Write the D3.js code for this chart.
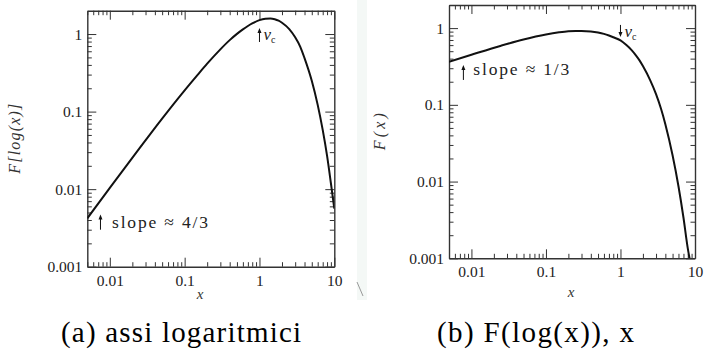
<!DOCTYPE html>
<html>
<head>
<meta charset="utf-8">
<script src="https://cdn.jsdelivr.net/npm/d3@7"></script>
</head>
<body style="margin:0">
<div id="chart"></div>
<script>
// (a) F[log(x)] against x, both axes logarithmic
const xA = [0.005, 0.01, 0.025, 0.05, 0.1, 0.15, 0.2, 0.3, 0.4, 0.5, 0.6, 0.7, 0.8, 1.0, 1.2, 1.4, 1.6, 1.8, 2.0, 2.5, 3.0, 3.5, 4.0, 5.0, 6.0, 7.0, 8.0, 9.0, 10];
const yA = [0.0042, 0.0104, 0.0338, 0.0812, 0.188, 0.300, 0.415, 0.635, 0.835, 1.005, 1.15, 1.27, 1.37, 1.51, 1.575, 1.59, 1.555, 1.49, 1.40, 1.16, 0.91, 0.69, 0.49, 0.25, 0.122, 0.058, 0.027, 0.012, 0.0056];

// (b) F(x) against x
const xB = [0.005, 0.01, 0.025, 0.05, 0.1, 0.15, 0.2, 0.25, 0.3, 0.4, 0.5, 0.6, 0.7, 0.8, 1.0, 1.2, 1.4, 1.6, 1.8, 2.0, 2.5, 3.0, 3.5, 4.0, 5.0, 6.0, 7.0, 8.0, 8.45];
const yB = [0.365, 0.45, 0.59, 0.71, 0.825, 0.88, 0.91, 0.92, 0.92, 0.905, 0.875, 0.84, 0.80, 0.76, 0.69, 0.60, 0.52, 0.445, 0.38, 0.32, 0.21, 0.138, 0.089, 0.056, 0.022, 0.0087, 0.0034, 0.00135, 0.001];

const xMajor = [0.01, 0.1, 1, 10];
const xLabels = ["0.01", "0.1", "1", "10"];
const xMinor = [0.005, 0.006, 0.007, 0.008, 0.009, 0.02, 0.03, 0.04, 0.05, 0.06, 0.07, 0.08, 0.09,
                0.2, 0.3, 0.4, 0.5, 0.6, 0.7, 0.8, 0.9, 2, 3, 4, 5, 6, 7, 8, 9];
const yMajor = [0.001, 0.01, 0.1, 1];
const yLabels = ["0.001", "0.01", "0.1", "1"];
const yMinor = [0.002, 0.003, 0.004, 0.005, 0.006, 0.007, 0.008, 0.009, 0.02, 0.03, 0.04, 0.05, 0.06, 0.07, 0.08, 0.09,
                0.2, 0.3, 0.4, 0.5, 0.6, 0.7, 0.8, 0.9];

const captions = ["(a) assi logaritmici", "(b) F(log(x)), x"];

const width = 708, height = 361;
const fontName = "Liberation Serif";
const ink = "#333";

const svg = d3.select("#chart").append("svg")
  .attr("width", width)
  .attr("height", height)
  .attr("font-family", fontName);

svg.append("rect").attr("width", width).attr("height", height).attr("fill", "#fff");
// faint scan seam between the two figures
svg.append("rect").attr("x", 357).attr("y", 0).attr("width", 10).attr("height", 300).attr("fill", "#f4f8f6");
svg.append("line").attr("x1", 357).attr("y1", 282).attr("x2", 363).attr("y2", 296)
  .attr("stroke", "#999").attr("stroke-width", 1);

const panels = [
  { left: 87.3, right: 334.3, top: 10.7, bottom: 266.7, xs: xA, ys: yA,
    ylab: "F[log(x)]", ylabX: 20, ylabLen: 70, xlabX: 200, xlabY: 299,
    slope: { ax: 0.0075, tail: 0.0030, tip: 0.0047, tx: 0.0107, ty: 0.0032, text: "slope ≈ 4/3" },
    nu: { tail: 0.79, tip: 1.2, ty: 0.84 },
    caption: { x: 61, w: 240 } },
  { left: 449, right: 695, top: 5, bottom: 258.3, xs: xB, ys: yB,
    ylab: "F(x)", ylabX: 385, ylabLen: 37, xlabX: 571, xlabY: 297,
    slope: { ax: 0.0078, tail: 0.211, tip: 0.331, tx: 0.0106, ty: 0.245, text: "slope ≈ 1/3" },
    nu: { tail: 1.10, tip: 0.768, ty: 0.768 },
    caption: { x: 437, w: 197 } }
];

function arrow(g, x, y1, y2) {
  const dir = y2 < y1 ? 1 : -1;
  g.append("line")
    .attr("x1", x).attr("x2", x).attr("y1", y1).attr("y2", y2 + dir * 2)
    .attr("stroke", "#111").attr("stroke-width", 1);
  g.append("path")
    .attr("d", `M${x - 2},${y2 + dir * 5}L${x},${y2}L${x + 2},${y2 + dir * 5}Z`)
    .attr("fill", "#111");
}

function styleAxis(g) {
  g.attr("font-family", fontName).attr("font-size", 15.5);
  g.select(".domain").attr("stroke", ink).attr("stroke-width", 1.4);
  g.selectAll(".tick line").attr("stroke", ink).attr("stroke-width", 1);
  g.selectAll(".tick text").attr("fill", "#222").style("font-family", `"${fontName}"`);
}

panels.forEach((p, k) => {
  const x = d3.scaleLog().domain([0.005, 10]).range([p.left, p.right]);
  const y = d3.scaleLog().domain([0.001, 2]).range([p.bottom, p.top]);
  const g = svg.append("g");

  // bottom
  g.append("g").attr("transform", `translate(0,${p.bottom})`)
    .call(d3.axisBottom(x).tickValues(xMajor).tickSize(-9).tickSizeOuter(0).tickPadding(8)
      .tickFormat((d, i) => xLabels[i]))
    .call(styleAxis);
  g.append("g").attr("transform", `translate(0,${p.bottom})`)
    .call(d3.axisBottom(x).tickValues(xMinor).tickSize(-4.5).tickFormat(""))
    .call(styleAxis).call(a => a.select(".domain").remove());
  // top
  g.append("g").attr("transform", `translate(0,${p.top})`)
    .call(d3.axisTop(x).tickValues(xMajor).tickSize(-9).tickSizeOuter(0).tickFormat(""))
    .call(styleAxis);
  g.append("g").attr("transform", `translate(0,${p.top})`)
    .call(d3.axisTop(x).tickValues(xMinor).tickSize(-4.5).tickFormat(""))
    .call(styleAxis).call(a => a.select(".domain").remove());
  // left
  g.append("g").attr("transform", `translate(${p.left},0)`)
    .call(d3.axisLeft(y).tickValues(yMajor).tickSize(-9).tickSizeOuter(0).tickPadding(5)
      .tickFormat((d, i) => yLabels[i]))
    .call(styleAxis);
  g.append("g").attr("transform", `translate(${p.left},0)`)
    .call(d3.axisLeft(y).tickValues(yMinor).tickSize(-4.5).tickFormat(""))
    .call(styleAxis).call(a => a.select(".domain").remove());
  // right
  g.append("g").attr("transform", `translate(${p.right},0)`)
    .call(d3.axisRight(y).tickValues(yMajor).tickSize(-9).tickSizeOuter(0).tickFormat(""))
    .call(styleAxis);
  g.append("g").attr("transform", `translate(${p.right},0)`)
    .call(d3.axisRight(y).tickValues(yMinor).tickSize(-4.5).tickFormat(""))
    .call(styleAxis).call(a => a.select(".domain").remove());

  // curve
  const clipId = "clip" + k;
  g.append("clipPath").attr("id", clipId).append("rect")
    .attr("x", p.left).attr("y", p.top)
    .attr("width", p.right - p.left).attr("height", p.bottom - p.top);
  const line = d3.line()
    .x(d => x(d[0]))
    .y(d => y(d[1]))
    .curve(d3.curveMonotoneX);
  g.append("path")
    .datum(d3.zip(p.xs, p.ys))
    .attr("clip-path", `url(#${clipId})`)
    .attr("fill", "none")
    .attr("stroke", "#111")
    .attr("stroke-width", 2)
    .attr("stroke-linejoin", "round")
    .attr("d", line);

  // axis titles
  g.append("text")
    .style("font-family", `"${fontName}"`)
    .attr("x", p.xlabX).attr("y", p.xlabY)
    .attr("text-anchor", "middle")
    .attr("font-style", "italic").attr("font-size", 15)
    .attr("fill", "#333")
    .text("x");
  g.append("text")
    .style("font-family", `"${fontName}"`)
    .attr("transform", `translate(${p.ylabX},${(p.top + p.bottom) / 2}) rotate(-90)`)
    .attr("text-anchor", "middle")
    .attr("font-style", "italic").attr("font-size", 16)
    .attr("textLength", p.ylabLen).attr("lengthAdjust", "spacing")
    .attr("fill", "#333")
    .text(p.ylab);

  // slope annotation
  arrow(g, x(p.slope.ax), y(p.slope.tail), y(p.slope.tip));
  g.append("text")
    .style("font-family", `"${fontName}"`)
    .attr("x", x(p.slope.tx)).attr("y", y(p.slope.ty))
    .attr("font-size", 17.5).attr("fill", "#222")
    .attr("textLength", 96).attr("lengthAdjust", "spacing")
    .text(p.slope.text);

  // nu_c annotation at x = 1
  arrow(g, x(1), y(p.nu.tail), y(p.nu.tip));
  const nu = g.append("text")
    .style("font-family", `"${fontName}"`)
    .attr("x", x(1) + 4).attr("y", y(p.nu.ty))
    .attr("font-size", 17).attr("fill", "#222");
  nu.append("tspan").attr("font-style", "italic").text("ν");
  nu.append("tspan").attr("font-size", 10).attr("dy", 3).text("c");

  // caption
  svg.append("text")
    .style("font-family", `"${fontName}"`)
    .attr("x", p.caption.x).attr("y", 342)
    .attr("font-size", 29)
    .attr("textLength", p.caption.w).attr("lengthAdjust", "spacing")
    .attr("fill", "#000")
    .text(captions[k]);
});
</script>
</body>
</html>
